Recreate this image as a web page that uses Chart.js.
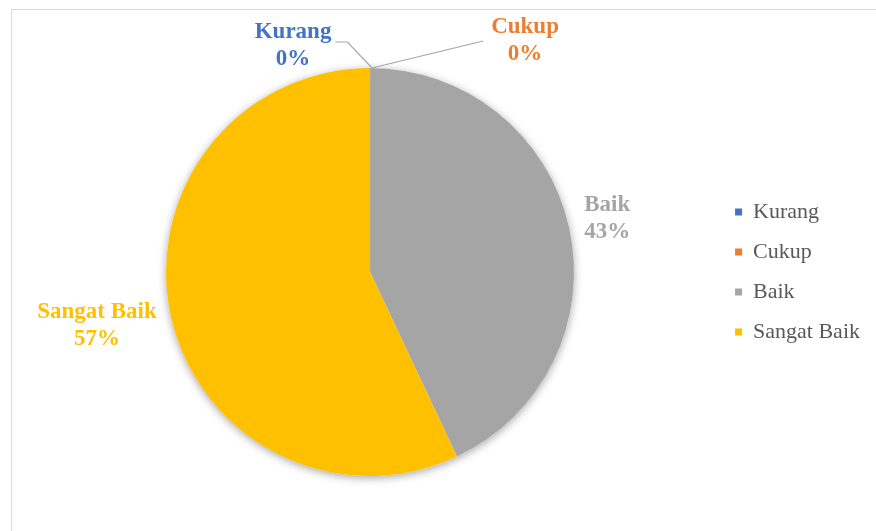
<!DOCTYPE html>
<html>
<head>
<meta charset="utf-8">
<title>Sebaran Penilaian</title>
<script src="https://cdn.jsdelivr.net/npm/chart.js@4.4.1/dist/chart.umd.min.js"></script>
<style>
  html, body { margin: 0; padding: 0; background: #ffffff; }
  #wrap { width: 876px; height: 531px; }
</style>
</head>
<body>
<div id="wrap"><canvas id="grafikPenilaian" width="876" height="531"></canvas></div>
<script>
const categories = ["Kurang", "Cukup", "Baik", "Sangat Baik"];
const percentages = [0, 0, 43, 57];
const sliceColors = ["#4472C4", "#ED7D31", "#A5A5A5", "#FFC000"];

// label geser manual untuk irisan 0% (dengan garis penunjuk)
const labelShift = [[-77, -22], [155, -27], null, null];

const serif = "'Liberation Serif', 'Times New Roman', serif";

// bingkai area grafik (kiri + atas)
const bingkai = {
  id: "bingkai",
  beforeDraw(chart) {
    const ctx = chart.ctx;
    ctx.save();
    ctx.strokeStyle = "#D9D9D9";
    ctx.lineWidth = 1;
    ctx.beginPath();
    ctx.moveTo(11.5, chart.height);
    ctx.lineTo(11.5, 9.5);
    ctx.lineTo(chart.width, 9.5);
    ctx.stroke();
    ctx.restore();
  }
};

// bayangan lembut di bawah pie
const bayangan = {
  id: "bayangan",
  beforeDatasetsDraw(chart) {
    const arc = chart.getDatasetMeta(0).data[0];
    if (!arc) return;
    const ctx = chart.ctx;
    ctx.save();
    ctx.shadowColor = "rgba(0,0,0,0.35)";
    ctx.shadowBlur = 9;
    ctx.shadowOffsetY = 2;
    ctx.fillStyle = "#ffffff";
    ctx.beginPath();
    ctx.arc(arc.x, arc.y, arc.outerRadius, 0, Math.PI * 2);
    ctx.fill();
    ctx.restore();
  }
};

// label data: nama kategori + persen
const labelData = {
  id: "labelData",
  afterDatasetsDraw(chart) {
    const ctx = chart.ctx;
    const meta = chart.getDatasetMeta(0);
    const lineH = 27;
    ctx.save();
    ctx.font = "bold 23px " + serif;
    ctx.textAlign = "center";
    ctx.textBaseline = "middle";

    meta.data.forEach((arc, i) => {
      const lines = [categories[i], percentages[i] + "%"];
      const halfW = Math.max(...lines.map(t => ctx.measureText(t).width)) / 2;
      const halfH = lineH;
      const mid = (arc.startAngle + arc.endAngle) / 2;
      const cos = Math.cos(mid), sin = Math.sin(mid);
      let cx, cy;

      if (labelShift[i]) {
        const px = arc.x + cos * arc.outerRadius;
        const py = arc.y + sin * arc.outerRadius;
        cx = px + labelShift[i][0];
        cy = py + labelShift[i][1];
        ctx.strokeStyle = "#A6A6A6";
        ctx.lineWidth = 1.2;
        ctx.beginPath();
        ctx.moveTo(px + 2, py);
        if (cx < px) {
          const ex = cx + halfW + 4;
          const ey = cy - 4;
          ctx.lineTo(ex + 12, ey);
          ctx.lineTo(ex, ey);
        } else {
          ctx.lineTo(cx - halfW - 8, cy);
        }
        ctx.stroke();
      } else {
        const ax = arc.x + cos * (arc.outerRadius + 16);
        const ay = arc.y + sin * (arc.outerRadius + 16);
        cx = ax + cos * halfW;
        cy = ay + sin * halfH;
      }

      ctx.fillStyle = sliceColors[i];
      ctx.fillText(lines[0], cx, cy - lineH / 2);
      ctx.fillText(lines[1], cx, cy + lineH / 2);
    });
    ctx.restore();
  }
};

new Chart(document.getElementById("grafikPenilaian"), {
  type: "pie",
  data: {
    labels: categories,
    datasets: [{
      data: percentages,
      backgroundColor: sliceColors,
      borderWidth: 0
    }]
  },
  options: {
    responsive: false,
    animation: false,
    layout: {
      padding: { left: 23, right: 6, top: 68, bottom: 55 }
    },
    plugins: {
      tooltip: { enabled: false },
      legend: {
        display: true,
        position: "right",
        labels: {
          boxWidth: 7,
          boxHeight: 7,
          padding: 18,
          color: "#595959",
          font: { family: serif, size: 22 }
        }
      }
    }
  },
  plugins: [bingkai, bayangan, labelData]
});
</script>
</body>
</html>
